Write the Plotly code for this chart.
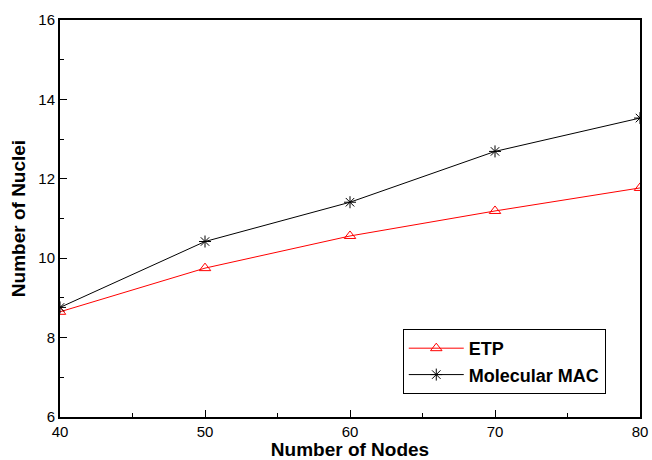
import plotly.graph_objects as go

nodes = [40, 50, 60, 70, 80]
etp = [8.65, 9.75, 10.56, 11.19, 11.77]
molecular_mac = [8.76, 10.42, 11.41, 12.69, 13.53]

x_ticks = [40, 50, 60, 70, 80]
y_ticks = [6, 8, 10, 12, 14, 16]

FONT = "Liberation Sans, Arial"

fig = go.Figure()
fig.add_trace(go.Scatter(
    x=nodes, y=etp, name="<b>ETP</b>", mode="lines+markers",
    line=dict(color="red", width=1),
    marker=dict(symbol="triangle-up-open", size=10, color="red", line=dict(width=1)),
))
fig.add_trace(go.Scatter(
    x=nodes, y=molecular_mac, name="<b>Molecular MAC</b>", mode="lines+markers",
    line=dict(color="black", width=1),
    marker=dict(symbol="asterisk-open", size=10, color="black", line=dict(width=1, color="black")),
))

axis_common = dict(
    showline=True, linecolor="black", linewidth=2, mirror=True,
    ticks="inside", ticklen=7, tickwidth=1, tickcolor="black",
    showgrid=False, zeroline=False, automargin=False,
    tickfont=dict(family=FONT, size=15, color="black"),
)

fig.update_xaxes(
    range=[40, 80], tickvals=x_ticks,
    minor=dict(dtick=5, ticks="inside", ticklen=4, tickcolor="black", showgrid=False),
    title=dict(text="<b>Number of Nodes</b>", font=dict(family=FONT, size=19, color="black"), standoff=2),
    **axis_common,
)
fig.update_yaxes(
    range=[6, 16], tickvals=y_ticks,
    minor=dict(dtick=1, ticks="inside", ticklen=4, tickcolor="black", showgrid=False),
    title=dict(text="<b>Number of Nuclei</b>", font=dict(family=FONT, size=19, color="black"), standoff=8),
    **axis_common,
)

fig.update_layout(
    width=652, height=460,
    margin=dict(l=60, r=12, t=20, b=43),
    plot_bgcolor="white", paper_bgcolor="white",
    legend=dict(
        x=0.591, y=0.2217, xanchor="left", yanchor="top",
        bordercolor="black", borderwidth=1, bgcolor="white",
        font=dict(family=FONT, size=18, color="black"),
        itemwidth=55, tracegroupgap=0,
    ),
    font=dict(family=FONT, color="black"),
)

fig.write_html(
    "out.html",
    config={"displayModeBar": False},
    post_script="document.body.style.margin='0';document.documentElement.style.overflow='hidden';document.body.style.overflow='hidden';",
)
